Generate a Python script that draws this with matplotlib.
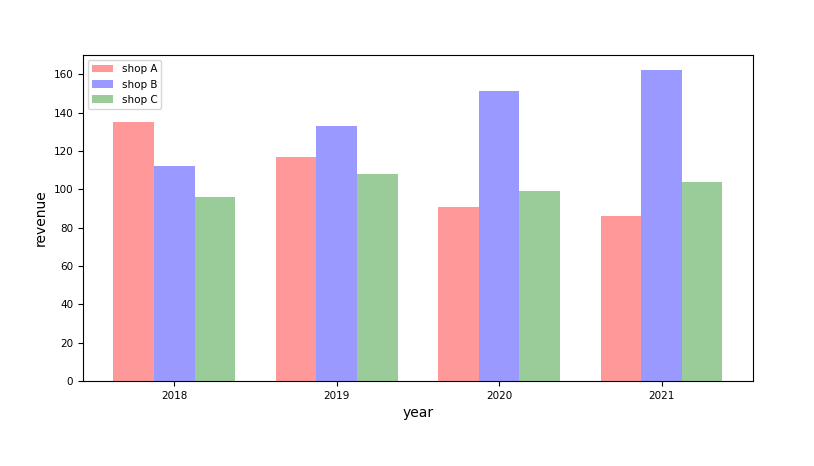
import matplotlib
matplotlib.use("Agg")
from matplotlib import pyplot as plt
import numpy as np

years = ['2018', '2019', '2020', '2021']
shop_a = [135, 117, 91, 86]
shop_b = [112, 133, 151, 162]
shop_c = [96, 108, 99, 104]

x = np.arange(len(years))
w = 0.25

fig = plt.figure(figsize=(8.14, 4.66), dpi=100)
ax = fig.add_axes([0.102, 0.182, 0.823, 0.700])
ax.bar(x - w, shop_a, w, color='red', alpha=0.4, label='shop A')
ax.bar(x, shop_b, w, color='blue', alpha=0.4, label='shop B')
ax.bar(x + w, shop_c, w, color='green', alpha=0.4, label='shop C')
ax.set_xticks(x)
ax.set_xticklabels(years)
ax.set_ylim(0, 170)
ax.tick_params(labelsize=7.5)
ax.set_xlabel('year', fontsize=10)
ax.set_ylabel('revenue', fontsize=10)
ax.legend(loc='upper left', fontsize=7.5)
fig.savefig('out.png')
